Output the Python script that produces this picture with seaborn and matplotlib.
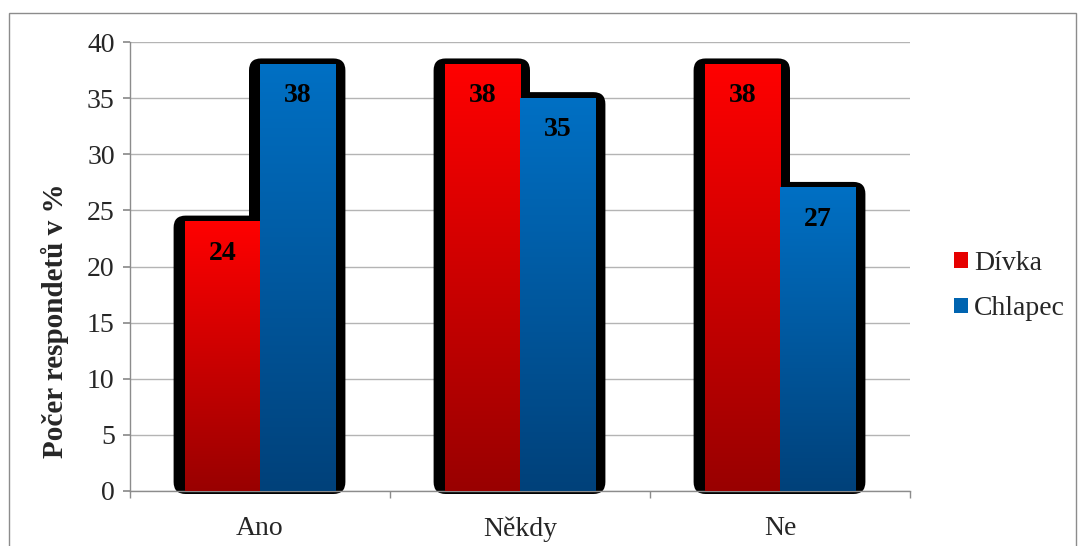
import numpy as np
import pandas as pd
import matplotlib
matplotlib.use("Agg")
import matplotlib.pyplot as plt
import seaborn as sns
from matplotlib.patches import FancyBboxPatch, Rectangle, Patch
from matplotlib.colors import LinearSegmentedColormap
from matplotlib.transforms import IdentityTransform

categories = ["Ano", "Někdy", "Ne"]
groups = ["Dívka", "Chlapec"]
divka = [24, 38, 38]
chlapec = [38, 35, 27]

df = pd.DataFrame({
    "odpoved": categories * 2,
    "pohlavi": [groups[0]] * 3 + [groups[1]] * 3,
    "procento": divka + chlapec,
})

sns.set_theme(style="white")
plt.rcParams["font.family"] = ["Liberation Serif", "DejaVu Serif"]

W, H, DPI = 1078, 546, 100
fig = plt.figure(figsize=(W / DPI, H / DPI), dpi=DPI)
ax = fig.add_axes([130 / W, 1 - 491 / H, 780 / W, 449 / H])

top_cols = {"Dívka": "#ff0000", "Chlapec": "#0070c4"}
bot_cols = {"Dívka": "#990000", "Chlapec": "#00417a"}

sns.barplot(data=df, x="odpoved", y="procento", hue="pohlavi",
            hue_order=groups, order=categories, width=0.58,
            palette=top_cols, ax=ax, legend=False, saturation=1)

ax.set_xlim(-0.5, 2.5)
ax.set_ylim(0, 40)
ax.set_yticks(range(0, 41, 5))
ax.yaxis.grid(True, color="#b4b4b4", linewidth=1)
ax.set_axisbelow(True)
for s in ["top", "right"]:
    ax.spines[s].set_visible(False)
for s in ["left", "bottom"]:
    ax.spines[s].set_color("#8c8c8c")
    ax.spines[s].set_linewidth(1)
ax.tick_params(axis="y", which="major", length=5, color="#8c8c8c",
               direction="out", left=True, labelsize=20, pad=6)
ax.tick_params(axis="x", which="major", length=0, labelsize=20, pad=18)
ax.set_xticks([-0.5, 0.5, 1.5, 2.5], minor=True)
ax.tick_params(axis="x", which="minor", length=5, color="#8c8c8c",
               direction="out", bottom=True)
ax.set_xlabel("")
ax.set_ylabel("Počer respondetů v %", fontsize=21, fontweight="bold",
              labelpad=10)
ax.yaxis.set_label_coords(-0.078, 0.379)

fig.canvas.draw()
to_px = ax.transData.transform

# black rounded backing behind every bar, then gradient fills on top
bars = []
for cont, grp in zip(ax.containers, groups):
    for rect in cont:
        bars.append((rect, grp))

for rect, grp in bars:
    x0, y0 = rect.get_x(), rect.get_y()
    x1, y1 = x0 + rect.get_width(), y0 + rect.get_height()
    (px0, py0), (px1, py1) = to_px((x0, y0)), to_px((x1, y1))
    shadow = FancyBboxPatch((px0 - 11, py0 - 3), (px1 - px0) + 21, (py1 - py0) + 9,
                            boxstyle="round,pad=0,rounding_size=12",
                            transform=IdentityTransform(), facecolor="black",
                            edgecolor="none", zorder=2, clip_on=False)
    ax.add_artist(shadow)

for rect, grp in bars:
    x0, y0 = rect.get_x(), rect.get_y()
    w, h = rect.get_width(), rect.get_height()
    cmap = LinearSegmentedColormap.from_list(grp, [bot_cols[grp], top_cols[grp]])
    grad = np.linspace(0, 1, 256).reshape(-1, 1)
    ax.imshow(grad, cmap=cmap, origin="lower", aspect="auto",
              extent=[x0, x0 + w, y0, y0 + h], zorder=3,
              interpolation="bilinear")
    rect.set_facecolor("none")
    rect.set_edgecolor("none")
    rect.set_zorder(3)
    ax.text(x0 + w / 2, h - 2.8, f"{h:.0f}", ha="center", va="center",
            fontsize=20, fontweight="bold", color="black", zorder=4)

ax.set_xlim(-0.5, 2.5)
ax.set_ylim(0, 40)

handles = [Patch(facecolor="#e60000", edgecolor="none", label=groups[0]),
           Patch(facecolor="#0064b0", edgecolor="none", label=groups[1])]
fig.legend(handles=handles, loc="center left", bbox_to_anchor=(929 / W, 1 - 286 / H),
           frameon=False, fontsize=20, handlelength=0.5, handleheight=0.5,
           handletextpad=0.22, labelspacing=0.75)

fig.add_artist(Rectangle((9 / W, -0.05), (1076 - 9) / W, 1.05 - 13 / H,
                         transform=fig.transFigure, fill=False,
                         edgecolor="#8c8c8c", linewidth=1))

fig.savefig("out.png", dpi=DPI)
